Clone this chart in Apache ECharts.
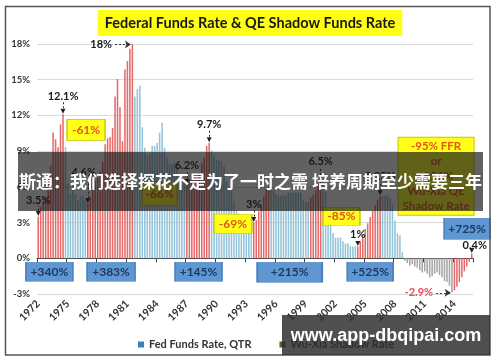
<!DOCTYPE html>
<html>
<head>
<meta charset="utf-8">
<script src="https://cdn.jsdelivr.net/npm/echarts@6/dist/echarts.min.js"></script>
<style>
  html, body { margin: 0; padding: 0; background: #ffffff; }
  #chart { width: 500px; height: 362px; }
</style>
</head>
<body>
<div id="chart"></div>
<script>
// ---- data -------------------------------------------------------------
const firstYear = 1972;
const lastYear = 2015;

// Effective fed funds rate, quarterly, 1972 Q1 - 2008 Q4 (%)
const fedFunds = [
  3.5, 4.3, 4.74, 5.14, 6.54, 7.82, 10.56, 10.0, 9.32, 11.25, 12.1,
  9.35, 6.3, 5.42, 6.16, 5.41, 4.83, 5.2, 5.28, 4.87,
  4.6, 5.16, 5.82, 6.51, 6.76, 7.28, 8.1, 9.58, 10.07, 10.18, 10.95, 13.58, 15.05, 12.69, 9.84, 15.85, 16.57, 17.6, 18,
  13.59, 14.23, 14.51, 11.01, 9.29, 8.65, 8.8, 9.46, 9.43, 9.69, 10.56, 11.39, 9.27, 8.48, 7.92, 7.9, 8.1, 7.83, 6.92, 6.3, 6.27,
  6.2, 6.65, 6.84, 6.92, 6.66, 7.16, 7.98, 8.47, 9.44, 9.7,
  9.08, 8.61, 8.25, 8.24, 8.16, 7.74, 6.43, 5.86, 5.64, 4.82, 4.02, 3.77, 3.26, 3.04, 3.04, 3.05, 3.06,
  3, 3.21, 3.94, 4.49, 5.17, 5.81, 6.02,
  5.8, 5.72, 5.36, 5.24, 5.31, 5.28, 5.28, 5.52, 5.53, 5.51, 5.52, 5.5, 5.53, 4.86, 4.73, 4.75,
  5.09, 5.31, 5.68, 6.27, 6.5,
  6.47, 5.59, 4.33, 3.5, 2.13, 1.73, 1.75, 1.74, 1.44, 1.25, 1.25, 1.02, 1.0, 1.0,
  1, 1.43, 1.95, 2.47, 2.94, 3.46, 3.98, 4.46, 4.91, 5.25,
  5.25, 5.26, 5.25, 5.07, 4.5, 3.18, 2.09, 1.94, 0.51
];

// Wu-Xia shadow rate, quarterly, 2009 Q1 - 2015 Q4 (%)
const shadowRate = [
  -0.2, -0.4, -0.6, -0.5, -0.7, -0.8, -1.0, -1.2, -1.1, -1.3, -1.6, -1.5, -1.3, -1.2,
  -1.4, -1.6, -1.9, -2.0, -2.3, -2.9,
  -2.7, -2.4, -2.0, -1.6, -1.1, -0.7, -0.3, 0.4
];

// Tightening cycles, [first quarter, last quarter] as positions in the series
const hikes = [[0, 10], [20, 38], [60, 69], [87, 93], [110, 114], [129, 138], [168, 175]];

// Quarters whose value is written on the chart
const labelledQuarters = [0, 10, 20, 38, 60, 69, 87, 114, 129, 138, 167, 175];

// Rate change over each cycle
const riseLabels = ['+340%', '+383%', '+145%', '+215%', '+525%', '+725%'];
const fallLabels = ['-61%', '-66%', '-69%', '-85%'];
const qeLines = ['-95% FFR', 'or', '-156%', 'Wu-Xia QE', 'Shadow Rate'];

// Axis ticks
const yearTicks = ['1972', '1975', '1978', '1981', '1984', '1987', '1990', '1993',
                   '1996', '1999', '2002', '2005', '2008', '2011', '2014'];
const yMin = -3, yMax = 18, yStep = 3;

const titleText = 'Federal Funds Rate & QE Shadow Funds Rate';
const seriesNames = ['Fed Funds Rate, QTR', 'Wu-Xia Shadow Rate'];
const bannerText = '斯通：我们选择探花不是为了一时之需 培养周期至少需要三年';
const siteText = 'www.app-dbqipai.com';

// ---- build ------------------------------------------------------------
const quarters = [];
for (let y = firstYear; y <= lastYear; y++) {
  for (let q = 1; q <= 4; q++) quarters.push(y + ' Q' + q);
}
const nQ = quarters.length;
const nF = fedFunds.length;
const valueAt = i => (i < nF ? fedFunds[i] : shadowRate[i - nF]);
const inHike = i => hikes.some(([a, b]) => i >= a && i <= b);

const RED = '#e66a69', BLUE = '#93c4da', GREY = '#a5a5a5';
const FONT = 'Lato, "Liberation Sans", sans-serif';

const ffrData = quarters.map((_, i) =>
  i < nF ? { value: fedFunds[i], itemStyle: { color: inHike(i) ? RED : BLUE } } : null);
const wxData = quarters.map((_, i) =>
  i >= nF ? { value: shadowRate[i - nF], itemStyle: { color: inHike(i) ? RED : GREY } } : null);

const grid = { left: 37, right: 27, top: 44, bottom: 68 };
const pxPerUnit = (362 - grid.top - grid.bottom) / (yMax - yMin);

// label spacing above each written value (px) and sideways nudge
const noteGap = { 0: 5.5, 10: 6.5, 20: 20, 60: 8.5, 69: 7.5, 87: 7.5, 114: 8.5, 129: 0.5, 138: 8.5, 175: 0 };
const noteShift = { 20: [-4, 0], 175: [3, 3] };

const pointNotes = [];
const stemLines = [];
labelledQuarters.forEach(i => {
  if (!(i in noteGap)) return;
  const v = valueAt(i);
  const d = noteGap[i];
  pointNotes.push({
    coord: [i, v],
    symbol: 'triangle', symbolRotate: 180, symbolSize: [5, 5], symbolOffset: [0, -3],
    itemStyle: { color: '#222' },
    label: {
      show: true, position: 'top', distance: d, offset: noteShift[i] || [0, 0],
      formatter: v + '%', color: '#1a1a1a', fontWeight: 'bold', fontSize: 11, fontFamily: FONT
    }
  });
  if (d > 3) {
    stemLines.push([{ coord: [i, v + 6 / pxPerUnit] }, { coord: [i, v + (5.5 + d) / pxPerUnit] }]);
  }
});

// horizontal pointers for the 1981 peak and the shadow-rate trough
const peakIdx = 38, troughIdx = 167;
const pointerLines = [
  [{ coord: [31.0, valueAt(peakIdx) - 0.05], label: { formatter: valueAt(peakIdx) + '%', color: '#1a1a1a' } },
   { coord: [37.4, valueAt(peakIdx) - 0.05] }],
  [{ coord: [160.6, valueAt(troughIdx)], label: { formatter: valueAt(troughIdx) + '%', color: '#e0505c' } },
   { coord: [166.5, valueAt(troughIdx)] }]
];

// callout boxes, placed in chart coordinates [quarter, rate]
const risePlace = [[4.5, -1.13, 47, 19], [29.4, -1.13, 48, 19], [64.7, -1.13, 47, 19],
                   [101.5, -1.18, 65, 20], [134.0, -1.13, 46, 19], [173.1, 2.48, 46, 21]];
const fallPlace = [[19.3, 10.79, 38, 21], [49.0, 5.38, 35, 22], [78.6, 2.9, 38, 19], [122.4, 3.53, 37, 18]];
const qePlace = [160.6, 6.89, 76, 78];

const boxNotes = [];
riseLabels.forEach((t, k) => {
  const [x, y, w, h] = risePlace[k];
  boxNotes.push({
    coord: [x, y], symbol: 'rect', symbolSize: [w, h],
    itemStyle: { color: '#5e97d2', borderColor: '#4a7ebb', borderWidth: 1 },
    label: { show: true, position: 'inside', formatter: t, color: '#1f3864',
             fontWeight: 'bold', fontSize: 12, fontFamily: FONT }
  });
});
fallLabels.forEach((t, k) => {
  const [x, y, w, h] = fallPlace[k];
  boxNotes.push({
    coord: [x, y], symbol: 'rect', symbolSize: [w, h],
    itemStyle: { color: '#ffff1a', borderColor: '#c8c400', borderWidth: 1 },
    label: { show: true, position: 'inside', formatter: t, color: '#e4541e',
             fontWeight: 'bold', fontSize: 12, fontFamily: FONT }
  });
});
boxNotes.push({
  coord: [qePlace[0], qePlace[1]], symbol: 'rect', symbolSize: [qePlace[2], qePlace[3]],
  itemStyle: { color: '#ffff1a', borderColor: '#c8c400', borderWidth: 1 },
  label: { show: true, position: 'inside', formatter: qeLines.join('\n'), color: '#e4541e',
           fontWeight: 'bold', fontSize: 11.5, lineHeight: 14.8, fontFamily: FONT, align: 'center' }
});

const chart = echarts.init(document.getElementById('chart'), null, { renderer: 'canvas' });

chart.setOption({
  animation: false,
  backgroundColor: '#ffffff',
  title: {
    text: titleText, left: 'center', top: 10,
    backgroundColor: '#ffff14', padding: [6, 7, 5, 7],
    textStyle: { fontFamily: FONT, fontSize: 14.5, fontWeight: 'bold', color: '#1a1a1a' }
  },
  legend: {
    left: 133, top: 334, itemWidth: 6, itemHeight: 6, itemGap: 28, icon: 'rect',
    selectedMode: false,
    textStyle: { fontFamily: FONT, fontSize: 11, fontWeight: 'bold', color: '#333' },
    data: [
      { name: seriesNames[0], itemStyle: { color: '#3b7fb3' } },
      { name: seriesNames[1], itemStyle: { color: '#4f6228' } }
    ]
  },
  grid: grid,
  xAxis: [
    {
      type: 'category', data: quarters, position: 'bottom',
      axisLine: { show: false, onZero: false }, axisTick: { show: false },
      axisLabel: {
        interval: i => i % 12 === 0,
        formatter: (v, i) => yearTicks[i / 12],
        rotate: 45, margin: 8, color: '#333', fontWeight: 'bold', fontSize: 10.5, fontFamily: FONT
      },
      splitLine: { show: false }
    },
    {
      type: 'category', data: quarters, position: 'top',
      axisLine: { show: true, onZero: true, lineStyle: { color: '#404040', width: 1 } },
      axisTick: { show: true, inside: true, interval: 11, length: 4, lineStyle: { color: '#404040' } },
      axisLabel: { show: false }, splitLine: { show: false }
    },
    { type: 'value', min: -0.5, max: nQ - 0.5, show: false, splitLine: { show: false } }
  ],
  yAxis: {
    type: 'value', min: yMin, max: yMax, interval: yStep,
    axisLine: { show: false }, axisTick: { show: false },
    axisLabel: { formatter: '{value}%', color: '#333', fontWeight: 'bold', fontSize: 9.5,
                 fontFamily: FONT, margin: 7 },
    splitLine: { lineStyle: { color: '#d9d9d9', width: 1 } }
  },
  series: [
    { name: seriesNames[0], type: 'bar', xAxisIndex: 0, data: ffrData,
      barWidth: '62%', barGap: '-100%', itemStyle: { color: '#3b7fb3' } },
    { name: seriesNames[1], type: 'bar', xAxisIndex: 0, data: wxData,
      barWidth: '62%', barGap: '-100%', itemStyle: { color: '#4f6228' } },
    {
      name: 'notes', type: 'scatter', xAxisIndex: 2, yAxisIndex: 0, data: [], silent: true, z: 5,
      markPoint: { silent: true, animation: false, data: boxNotes.concat(pointNotes) },
      markLine: {
        silent: true, animation: false, symbol: ['none', 'none'],
        lineStyle: { type: [2, 2], color: '#333', width: 1 },
        label: { show: false },
        data: stemLines.concat(pointerLines.map(p => [
          Object.assign({}, p[0], {
            symbol: 'none',
            label: Object.assign({ show: true, position: 'start', distance: 3, fontWeight: 'bold',
                                   fontSize: 11, fontFamily: FONT }, p[0].label)
          }),
          Object.assign({}, p[1], { symbol: 'arrow', symbolSize: 6 })
        ]))
      }
    }
  ],
  graphic: [
    { type: 'rect', z: 50, shape: { x: 5.5, y: 6.5, width: 484.5, height: 348.5 },
      style: { fill: 'none', stroke: '#555', lineWidth: 1.5 }, silent: true },
    { type: 'rect', z: 100, shape: { x: 18, y: 152, width: 465, height: 59 },
      style: { fill: 'rgba(22,22,22,0.68)' }, silent: true },
    { type: 'text', z: 101, x: 250.5, y: 182,
      style: { text: bannerText, fill: '#ffffff', font: 'bold 17px "Noto Sans CJK SC", sans-serif',
               textAlign: 'center', textVerticalAlign: 'middle' }, silent: true },
    { type: 'rect', z: 100, shape: { x: 282, y: 315, width: 208, height: 40 },
      style: { fill: 'rgba(45,45,45,0.84)' }, silent: true },
    { type: 'text', z: 101, x: 386, y: 336,
      style: { text: siteText, fill: '#ffffff', font: 'bold 18px "Liberation Sans", sans-serif',
               textAlign: 'center', textVerticalAlign: 'middle' }, silent: true }
  ]
});
</script>
</body>
</html>
